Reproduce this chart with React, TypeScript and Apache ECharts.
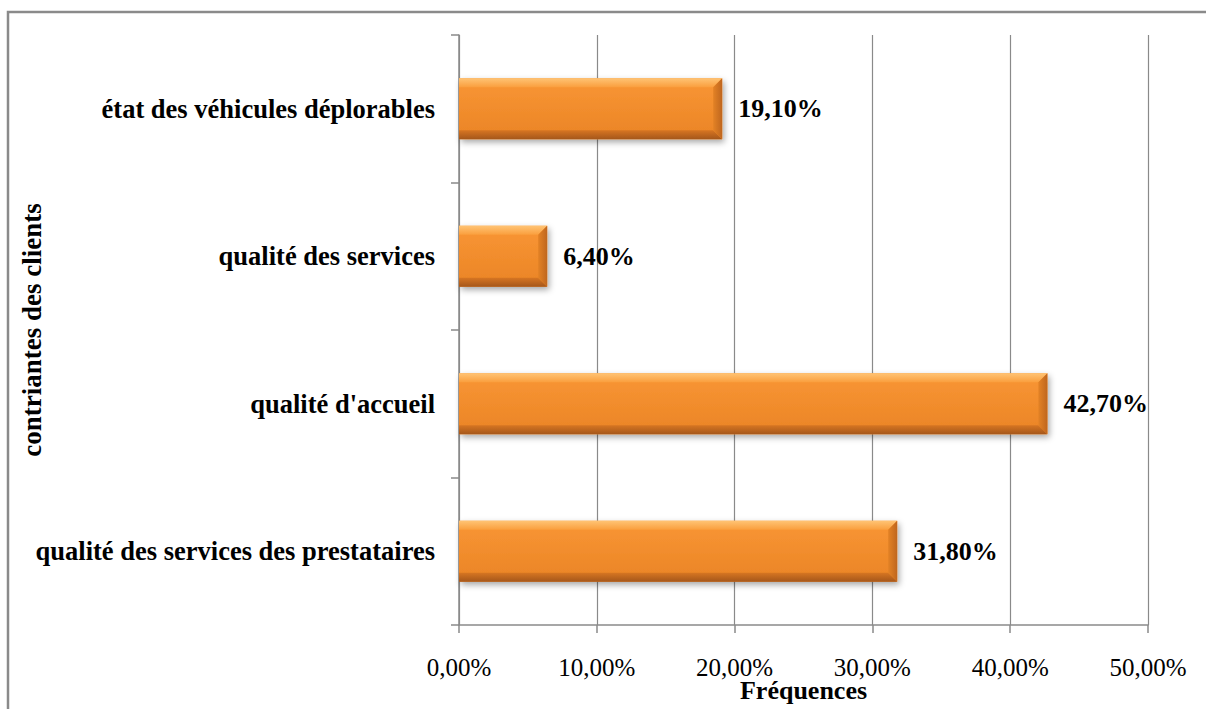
import React, { useEffect, useRef } from "react";
import * as echarts from "echarts";

// Categories listed bottom-to-top, as they appear on the vertical axis
const categories = [
  "qualité des services des prestataires",
  "qualité d'accueil",
  "qualité des services",
  "état des véhicules déplorables",
];
const frequencies = [31.8, 42.7, 6.4, 19.1];
const axisMin = 0;
const axisMax = 50;
const axisStep = 10;
const xAxisTitle = "Fréquences";
const yAxisTitle = "contriantes des clients";

const FONT = '"Liberation Serif", "Times New Roman", serif';
const fmtPct = (v: number) => v.toFixed(2).replace(".", ",") + "%";

export default function App() {
  const ref = useRef<HTMLDivElement>(null);

  useEffect(() => {
    if (!ref.current) return;
    const chart = echarts.init(ref.current, null, { renderer: "svg" });

    const seriesData = frequencies.map((v, i) => [v, i]);

    // Bevelled bar: flat face, lighter top edge, darker bottom and right edges
    const renderItem = (params: any, api: any) => {
      const v = api.value(0);
      const idx = api.value(1);
      const start = api.coord([0, idx]);
      const end = api.coord([v, idx]);
      const band = api.size([0, 1])[1];
      const h = band * 0.415;
      const x0 = start[0];
      const x1 = end[0];
      const yc = end[1];
      const y0 = yc - h / 2;
      const y1 = yc + h / 2;
      const b = 9;
      return {
        type: "group",
        children: [
          {
            type: "rect",
            shape: { x: x0, y: y0, width: x1 - x0, height: h },
            style: {
              fill: new echarts.graphic.LinearGradient(0, 0, 0, 1, [
                { offset: 0, color: "#F99634" },
                { offset: 1, color: "#EA8426" },
              ]),
              shadowBlur: 6,
              shadowColor: "rgba(0,0,0,0.35)",
              shadowOffsetX: 2,
              shadowOffsetY: 3,
            },
          },
          {
            type: "polygon",
            shape: { points: [[x0, y0], [x1, y0], [x1 - b, y0 + b], [x0, y0 + b]] },
            style: {
              fill: new echarts.graphic.LinearGradient(0, 0, 0, 1, [
                { offset: 0, color: "#FFC475" },
                { offset: 1, color: "#FA9F3E" },
              ]),
            },
          },
          {
            type: "polygon",
            shape: { points: [[x0, y1], [x1, y1], [x1 - b, y1 - b], [x0, y1 - b]] },
            style: {
              fill: new echarts.graphic.LinearGradient(0, 0, 0, 1, [
                { offset: 0, color: "#D67522" },
                { offset: 1, color: "#A4561A" },
              ]),
            },
          },
          {
            type: "polygon",
            shape: { points: [[x1, y0], [x1, y1], [x1 - b, y1 - b], [x1 - b, y0 + b]] },
            style: {
              fill: new echarts.graphic.LinearGradient(0, 0, 1, 0, [
                { offset: 0, color: "#E38225" },
                { offset: 1, color: "#BF661E" },
              ]),
            },
          },
          {
            type: "text",
            style: {
              x: x1 + 16,
              y: yc,
              text: fmtPct(v),
              fill: "#000",
              font: `bold 26px ${FONT}`,
              verticalAlign: "middle",
              align: "left",
            },
          },
        ],
      };
    };

    chart.setOption({
      animation: false,
      backgroundColor: "#fff",
      grid: {
        left: 459,
        right: 58,
        top: 35,
        bottom: 84,
        containLabel: false,
        outerBoundsMode: "none",
      },
      graphic: [
        {
          type: "rect",
          z: -1,
          shape: { x: 8, y: 12, width: 1300, height: 800 },
          style: { fill: "none", stroke: "#8a8a8a", lineWidth: 2.5 },
        },
      ],
      xAxis: {
        type: "value",
        min: axisMin,
        max: axisMax,
        interval: axisStep,
        name: xAxisTitle,
        nameLocation: "middle",
        nameGap: 52,
        nameMoveOverlap: false,
        nameTextStyle: { fontFamily: FONT, fontWeight: "bold", fontSize: 26, color: "#000" },
        axisLine: { show: true, lineStyle: { color: "#8a8a8a", width: 1.5 } },
        axisTick: { show: true, length: 8, lineStyle: { color: "#8a8a8a", width: 1.5 } },
        axisLabel: {
          formatter: (v: number) => fmtPct(v),
          fontFamily: FONT,
          fontSize: 25,
          color: "#000",
          margin: 30,
        },
        splitLine: { show: true, lineStyle: { color: "#8a8a8a", width: 1.2 } },
      },
      yAxis: {
        type: "category",
        data: categories,
        name: yAxisTitle,
        nameLocation: "middle",
        nameRotate: 90,
        nameGap: 414,
        nameMoveOverlap: false,
        nameTextStyle: { fontFamily: FONT, fontWeight: "bold", fontSize: 27, color: "#000" },
        axisLine: { show: true, lineStyle: { color: "#8a8a8a", width: 1.5 } },
        axisTick: { show: true, length: 8, lineStyle: { color: "#8a8a8a", width: 1.5 } },
        axisLabel: {
          fontFamily: FONT,
          fontWeight: "bold",
          fontSize: 26.5,
          color: "#000",
          margin: 24,
        },
        splitLine: { show: false },
      },
      series: [
        {
          type: "custom",
          renderItem,
          encode: { x: 0, y: 1 },
          data: seriesData,
          clip: false,
        },
      ],
    });

    return () => chart.dispose();
  }, []);

  return (
    <div
      ref={ref}
      style={{ position: "absolute", left: 0, top: 0, width: 1206, height: 709 }}
    />
  );
}
